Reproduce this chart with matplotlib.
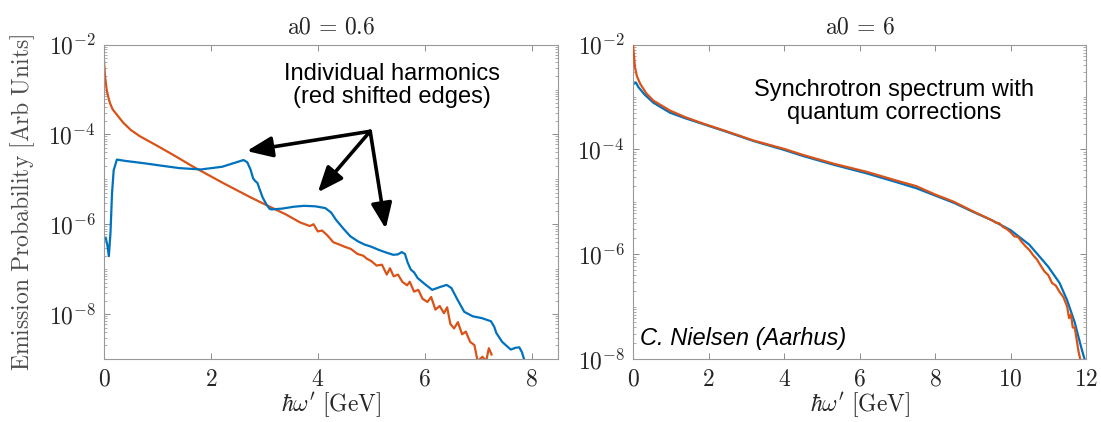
import numpy as np
import matplotlib
matplotlib.use("Agg")
import matplotlib.pyplot as plt
from matplotlib.ticker import FixedLocator, LogLocator, FuncFormatter, NullFormatter

plt.rcParams["mathtext.fontset"] = "cm"
plt.rcParams["font.family"] = ["Liberation Sans", "DejaVu Sans"]

BLUE = "#0072BD"
ORANGE = "#D95319"
GREY = "#262626"

# a0 = 0.6 panel, energies in GeV and log10 of emission probability
l_blue_x = [0.03, 0.06, 0.09, 0.12, 0.15, 0.18, 0.24, 0.4, 0.74, 1.1, 1.41, 1.81, 2.21, 2.45,
            2.61, 2.68, 2.74, 2.79, 2.83, 2.87, 2.92, 2.97, 3.04, 3.1, 3.14, 3.34, 3.55, 3.74,
            3.95, 4.14, 4.25, 4.34, 4.48, 4.61, 4.75, 4.87, 5.0, 5.14, 5.28, 5.41, 5.5, 5.57,
            5.63, 5.68, 5.74, 5.8, 5.87, 6.0, 6.14, 6.28, 6.41, 6.5, 6.6, 6.74, 6.9, 7.07,
            7.24, 7.3, 7.34, 7.45, 7.61, 7.7, 7.77, 7.82, 7.87]
l_blue_log = [-6.3, -6.45, -6.71, -6.2, -5.3, -4.8, -4.56, -4.59, -4.64, -4.70, -4.75, -4.78,
              -4.72, -4.63, -4.57, -4.62, -4.78, -4.98, -5.04, -5.08, -5.25, -5.41, -5.56,
              -5.66, -5.67, -5.65, -5.61, -5.59, -5.60, -5.64, -5.74, -5.90, -6.10, -6.27,
              -6.38, -6.45, -6.50, -6.57, -6.63, -6.68, -6.67, -6.62, -6.66, -6.85, -7.01,
              -7.07, -7.20, -7.33, -7.46, -7.40, -7.35, -7.42, -7.65, -7.95, -8.05, -8.09,
              -8.16, -8.28, -8.42, -8.62, -8.79, -8.75, -8.74, -8.85, -9.05]
l_orange_x = [0.0, 0.02, 0.05, 0.08, 0.11, 0.16, 0.24, 0.36, 0.5, 0.67, 0.99, 1.3, 1.67, 2.24,
              2.74, 3.05, 3.4, 3.67, 3.85, 3.92, 4.0, 4.08, 4.18, 4.29, 4.4, 4.5, 4.62, 4.74,
              4.85, 4.92, 5.0, 5.1, 5.2, 5.29, 5.35, 5.42, 5.5, 5.58, 5.67, 5.72, 5.8, 5.88,
              5.96, 6.05, 6.12, 6.2, 6.28, 6.36, 6.42, 6.48, 6.55, 6.62, 6.7, 6.77, 6.85,
              6.93, 6.99, 7.08, 7.15, 7.2, 7.25]
l_orange_log = [-2.38, -2.72, -3.01, -3.17, -3.30, -3.44, -3.56, -3.74, -3.90, -4.04, -4.25,
                -4.46, -4.72, -5.09, -5.40, -5.58, -5.78, -5.96, -6.04, -6.0, -6.16, -6.14,
                -6.25, -6.40, -6.45, -6.50, -6.55, -6.66, -6.70, -6.77, -6.82, -6.92, -6.90,
                -7.12, -6.98, -7.16, -7.12, -7.28, -7.36, -7.28, -7.50, -7.46, -7.66, -7.73,
                -7.62, -7.90, -7.82, -7.98, -7.85, -8.22, -8.32, -8.18, -8.45, -8.39, -8.62,
                -8.69, -9.05, -8.95, -9.05, -8.76, -8.9]

# a0 = 6 panel
r_blue_x = [0.0, 0.08, 0.14, 0.3, 0.54, 0.98, 1.4, 1.87, 2.5, 3.19, 4.0, 4.52, 5.3, 6.2, 7.0,
            7.5, 8.0, 8.5, 9.0, 9.5, 10.0, 10.5, 11.0, 11.3, 11.5, 11.7, 11.8, 11.9, 12.0]
r_blue_log = [-2.75, -2.73, -2.81, -2.95, -3.11, -3.3, -3.41, -3.52, -3.67, -3.84, -4.01,
              -4.13, -4.29, -4.46, -4.63, -4.74, -4.88, -5.02, -5.19, -5.35, -5.54, -5.82,
              -6.24, -6.55, -6.88, -7.3, -7.58, -7.85, -8.1]
r_orange_x = [0.0, 0.05, 0.1, 0.19, 0.35, 0.54, 0.98, 1.4, 1.87, 2.5, 3.19, 4.0, 4.52, 5.3,
              6.2, 7.0, 7.5, 8.0, 8.5, 9.0, 9.5, 9.62, 9.7, 9.8, 9.9, 10.0, 10.1, 10.2, 10.3,
              10.4, 10.5, 10.6, 10.7, 10.8, 10.9, 11.0, 11.1, 11.2, 11.3, 11.4, 11.5, 11.55,
              11.6, 11.65, 11.7, 11.75, 11.8, 11.86]
r_orange_log = [-2.02, -2.43, -2.6, -2.75, -2.93, -3.07, -3.26, -3.39, -3.51, -3.66, -3.83,
                -3.99, -4.11, -4.27, -4.43, -4.6, -4.7, -4.86, -5.0, -5.18, -5.35, -5.40,
                -5.41, -5.48, -5.52, -5.58, -5.66, -5.67, -5.77, -5.85, -5.92, -6.02, -6.10,
                -6.22, -6.33, -6.40, -6.55, -6.60, -6.72, -6.82, -7.0, -7.22, -7.15, -7.40,
                -7.40, -7.62, -7.85, -8.05]

fig = plt.figure(figsize=(11.01, 4.22), dpi=100)
ax1 = fig.add_axes([0.0945, 0.1493, 0.4126, 0.745])
ax2 = fig.add_axes([0.575, 0.1493, 0.4114, 0.745])

ax1.plot(l_orange_x, 10.0 ** np.array(l_orange_log), color=ORANGE, lw=1.6)
ax1.plot(l_blue_x, 10.0 ** np.array(l_blue_log), color=BLUE, lw=1.6)
ax2.plot(r_orange_x, 10.0 ** np.array(r_orange_log), color=ORANGE, lw=1.6, zorder=3)
ax2.plot(r_blue_x, 10.0 ** np.array(r_blue_log), color=BLUE, lw=1.6, zorder=2)

num_fmt = FuncFormatter(lambda v, p: r"$%g$" % v)
exp_fmt = FuncFormatter(lambda v, p: r"$10^{%d}$" % round(np.log10(v)))

for ax, xmax, ymin, xt, title in [(ax1, 8.5, 1e-9, [0, 2, 4, 6, 8], r"$\mathrm{a0}\,=\,0.6$"),
                                   (ax2, 12, 1e-8, [0, 2, 4, 6, 8, 10, 12], r"$\mathrm{a0}\,=\,6$")]:
    ax.set_yscale("log")
    ax.set_xlim(0, xmax)
    ax.set_ylim(ymin, 1e-2)
    ax.xaxis.set_major_locator(FixedLocator(xt))
    ax.xaxis.set_major_formatter(num_fmt)
    ax.yaxis.set_major_locator(FixedLocator([1e-8, 1e-6, 1e-4, 1e-2]))
    ax.yaxis.set_major_formatter(exp_fmt)
    ax.yaxis.set_minor_locator(LogLocator(base=10, subs=np.arange(1, 10), numticks=20))
    ax.yaxis.set_minor_formatter(NullFormatter())
    ax.tick_params(which="both", direction="in", top=True, right=True, colors="0.55",
                   labelcolor=GREY, labelsize=17)
    ax.tick_params(which="major", length=4.5, width=0.7)
    ax.tick_params(which="minor", length=2.5, width=0.5)
    ax.tick_params(axis="x", pad=7)
    ax.tick_params(axis="y", pad=6)
    for s in ax.spines.values():
        s.set_color("0.6")
        s.set_linewidth(0.8)
    ax.set_xlabel(r"$\hbar\omega^{\prime}\ [\mathrm{GeV}]$", fontsize=17, color=GREY, labelpad=0)
    ax.set_title(title, fontsize=17, color=GREY, pad=8)

ax1.set_ylabel(r"$\mathrm{Emission\ Probability\ [Arb\ Units]}$", fontsize=17, color="0.3",
               labelpad=8)

ax1.text(5.38, 10 ** -2.91, "Individual harmonics\n(red shifted edges)", fontsize=17,
         ha="center", va="center", linespacing=1.05)
for hx, hy in [(2.67, 10 ** -4.37), (4.0, 10 ** -5.29), (5.27, 10 ** -6.10)]:
    ax1.annotate("", xy=(hx, hy), xytext=(4.98, 10 ** -3.93),
                 arrowprops=dict(arrowstyle="-|>,head_length=1.1,head_width=0.45",
                                 color="black", lw=2.6, mutation_scale=14,
                                 shrinkA=0, shrinkB=0))

ax2.text(6.91, 10 ** -3.08, "Synchrotron spectrum with\nquantum corrections", fontsize=17,
         ha="center", va="center", linespacing=1.05)
ax2.text(0.19, 10 ** -7.61, "C. Nielsen (Aarhus)", fontsize=17, style="italic",
         ha="left", va="center")

fig.savefig("out.png", dpi=100)
